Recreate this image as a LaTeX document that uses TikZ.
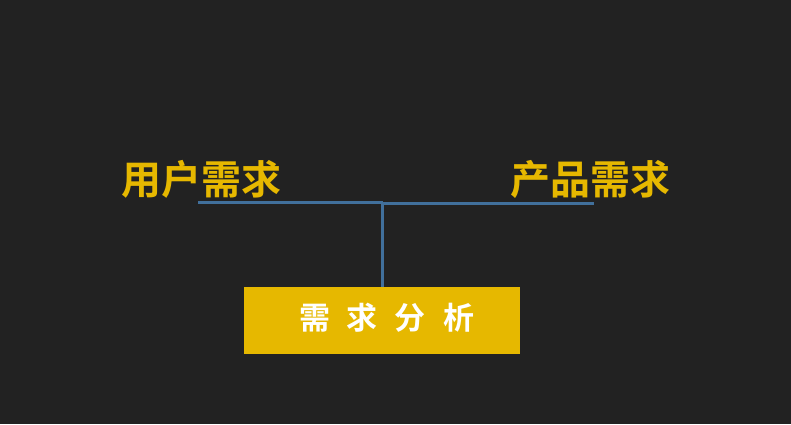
\documentclass[tikz,border=0pt]{standalone}
\usepackage{fontspec}
\newfontfamily\cjk[BoldFont={Noto Sans CJK SC Bold}]{Noto Sans CJK SC}
\definecolor{bg}{HTML}{222222}
\definecolor{gold}{HTML}{E6B800}
\definecolor{steel}{HTML}{41709C}
\tikzset{
  title/.style={text=gold, font=\cjk\bfseries\fontsize{40}{40}\selectfont, inner sep=0pt},
  link/.style={draw=steel, line width=3pt},
  mainbox/.style={fill=gold, minimum width=276pt, minimum height=67pt, inner sep=0pt},
}
\begin{document}
\begin{tikzpicture}[x=1pt,y=-1pt]
\fill[bg] (0,0) rectangle (791,424);
\useasboundingbox (0,0) rectangle (791,424);
\node[title] (user) at (201.5,179) {用户需求};
\node[title] (prod) at (590,179) {产品需求};
\node[mainbox] (box) at (382,320.5) {};
\node[text=white, font=\cjk\bfseries\fontsize{31}{31}\selectfont, inner sep=0pt] (boxt) at (386.5,318) {需\hspace{17pt}求\hspace{17pt}分\hspace{17pt}析};
\coordinate (ls) at (198,202.3);
\coordinate (j) at (382.7,202.3);
\coordinate (re) at (594,203.3);
\coordinate (jr) at (382.7,203.3);
\draw[link] (ls) -- (j);
\draw[link] (jr) -- (re);
\draw[link] (j) -- (box.north -| j);
\end{tikzpicture}
\end{document}
